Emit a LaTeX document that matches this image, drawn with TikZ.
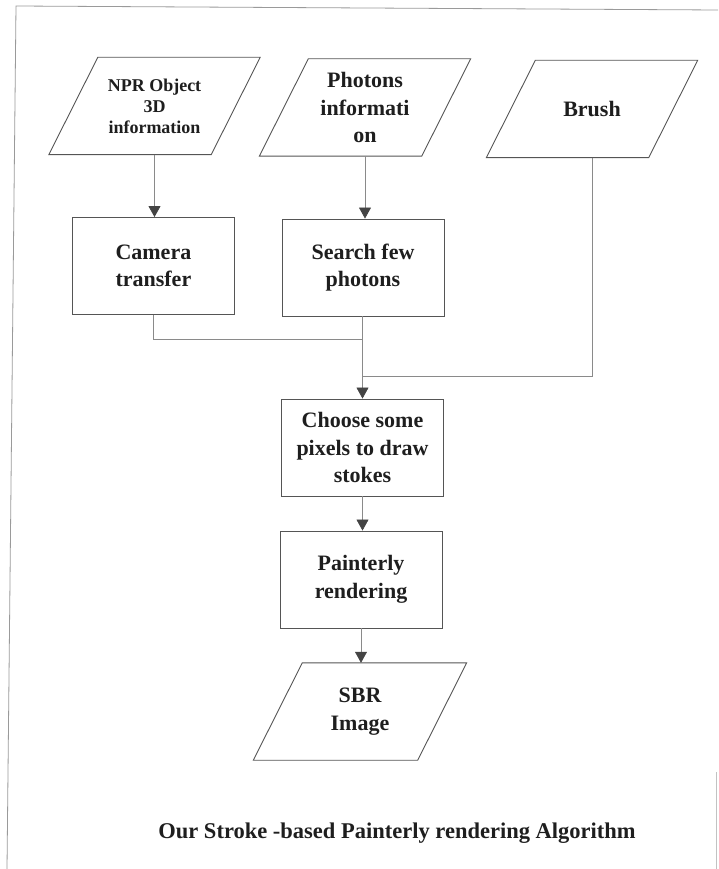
\documentclass[tikz,border=0pt]{standalone}
\usepackage{fontspec}
\setmainfont{Liberation Serif}
\usetikzlibrary{arrows.meta,calc}
\definecolor{linegray}{HTML}{8A8A8A}
\definecolor{boxgray}{HTML}{555555}
\definecolor{tipgray}{HTML}{444444}
\definecolor{txt}{HTML}{1E1E1E}
\definecolor{framegray}{HTML}{9A9A9A}
\begin{document}
\begin{tikzpicture}[x=1pt,y=-1pt,
  boxfont/.style={font=\bfseries\fontsize{22}{27.5}\selectfont},
  procbox/.style={draw=boxgray,line width=0.9pt,minimum width=162pt,minimum height=97pt,align=center,boxfont,text=txt,inner sep=0pt},
  parabox/.style={minimum width=211pt,minimum height=97pt,align=center,inner sep=0pt,text=txt,boxfont},
  paraline/.style={draw=boxgray,line width=0.9pt},
  conn/.style={draw=linegray,line width=0.7pt},
  arr/.style={conn,-{Triangle[width=12pt,length=11pt,fill=tipgray,color=tipgray]}},
  framel/.style={draw=framegray,line width=0.8pt}]
\useasboundingbox (0,0) rectangle (718,869);
% frame (scanned page edge)
\coordinate (f1) at (16,6);
\coordinate (f2) at (718,10);
\coordinate (f3) at (7,869);
\coordinate (f4) at (716,772);
\coordinate (f5) at (716,869);
\draw[framel] (f2) -- (f1) -- (f3);
\draw[framel,draw=framegray!60] (f4) -- (f5);
% input parallelograms
\node[parabox,font=\bfseries\fontsize{18}{21}\selectfont] (npr) at (154.5,106) {NPR Object\\3D\\information};
\node[parabox] (pho) at (365,107.5) {Photons\\informati\\on};
\node[parabox] (bru) at (592,109) {Brush};
% process boxes
\node[procbox] (cam) at (153.4,266) {Camera\\transfer};
\node[procbox] (sea) at (363,267.5) {Search few\\photons};
\node[procbox] (cho) at (362.5,447.5) {Choose some\\pixels to draw\\stokes};
\node[procbox] (pai) at (361,579.5) {Painterly\\rendering};
% output parallelogram
\node[parabox,minimum width=213pt] (sbr) at (360,711.5) {SBR\\Image};
\foreach \n in {npr,pho,bru,sbr}
  \draw[paraline] (\n.south west) -- ($(\n.south east)+(-49,0)$) -- (\n.north east) -- ($(\n.north west)+(49,0)$) -- cycle;
% connectors
\coordinate (j1) at (362.5,339);
\coordinate (j2) at (362.5,376);
\draw[arr] (npr.south) -- (npr.south |- cam.north);
\draw[arr] (pho.south) -- (pho.south |- sea.north);
\draw[conn] (cam.south) -- (cam.south |- j1) -- (j1);
\draw[conn] (bru.south) -- (bru.south |- j2) -- (j2);
\draw[arr] (j1 |- sea.south) -- (j1 |- cho.north);
\draw[arr] (cho.south) -- (cho.south |- pai.north);
\draw[arr] (pai.south) -- (pai.south |- sbr.north);
% caption
\node[text=txt,font=\bfseries\fontsize{22.5}{26}\selectfont,inner sep=0pt] (cap) at (397,833) {Our Stroke -based Painterly rendering Algorithm};
\end{tikzpicture}
\end{document}
